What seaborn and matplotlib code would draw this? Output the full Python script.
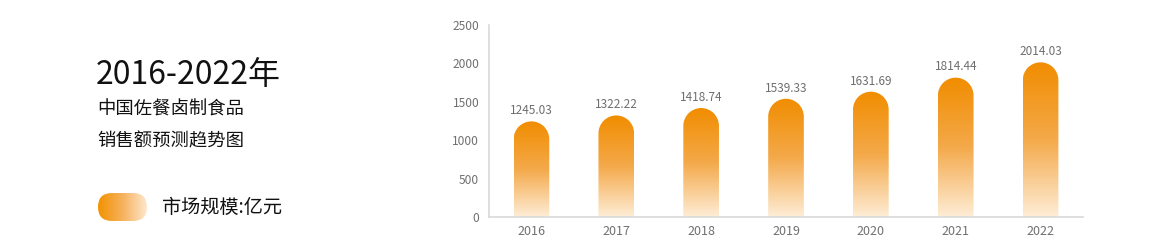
import numpy as np
import pandas as pd
import matplotlib
matplotlib.use('Agg')
import matplotlib.pyplot as plt
import seaborn as sns
from matplotlib.path import Path
from matplotlib.patches import PathPatch, FancyBboxPatch
from matplotlib.colors import LinearSegmentedColormap

# ---- data ----
years = ['2016', '2017', '2018', '2019', '2020', '2021', '2022']
values = [1245.03, 1322.22, 1418.74, 1539.33, 1631.69, 1814.44, 2014.03]
yticks = [0, 500, 1000, 1500, 2000, 2500]
title_main = '2016-2022年'
title_sub1 = '中国佐餐卤制食品'
title_sub2 = '销售额预测趋势图'
legend_label = '市场规模:亿元'

sns.set_theme(style='white')
plt.rcParams['font.family'] = ['Noto Sans CJK SC', 'DejaVu Sans']

W, H = 1170, 250
fig = plt.figure(figsize=(W / 100, H / 100), dpi=100)
fig.patch.set_facecolor('white')

ax_l, ax_r, ax_t, ax_b = 489, 1083, 25, 217
ax = fig.add_axes([ax_l / W, (H - ax_b) / H, (ax_r - ax_l) / W, (ax_b - ax_t) / H])
ax.set_facecolor('white')

df = pd.DataFrame({'year': years, 'value': values})
sns.barplot(data=df, x='year', y='value', ax=ax, width=0.42, color='#F18D00')
ax.set_xlim(-0.5, len(years) - 0.5)
ax.set_ylim(0, 2500)

bar_cmap = LinearSegmentedColormap.from_list('bar', ['#FEEDD6', '#F4A94A', '#F18D00'])
px_per_x = (ax_r - ax_l) / len(years)
px_per_y = (ax_b - ax_t) / 2500.0
grad = np.linspace(1, 0, 256).reshape(-1, 1)

for p in list(ax.patches):
    x0 = p.get_x()
    w = p.get_width()
    h = p.get_height()
    r_px = w * px_per_x / 2.0
    ry = r_px / px_per_y
    cx = x0 + w / 2.0
    arc = Path.arc(0, 180)
    av = arc.vertices.copy()
    av[:, 0] = cx + av[:, 0] * (w / 2.0)
    av[:, 1] = (h - ry) + av[:, 1] * ry
    ac = arc.codes.copy()
    ac[0] = Path.LINETO
    verts = [(x0 + w, 0), (x0 + w, h - ry)] + [tuple(v) for v in av] + [(x0, 0), (x0, 0)]
    codes = [Path.MOVETO, Path.LINETO] + list(ac) + [Path.LINETO, Path.CLOSEPOLY]
    clip = PathPatch(Path(verts, codes), facecolor='none', edgecolor='none', transform=ax.transData)
    ax.add_patch(clip)
    im = ax.imshow(grad, cmap=bar_cmap, vmin=0, vmax=1, aspect='auto',
                   extent=[x0, x0 + w, 0, h], origin='upper', zorder=2, interpolation='bilinear')
    im.set_clip_path(clip)
    p.set_visible(False)
    ax.annotate(f'{h:.2f}', (cx, h), xytext=(0, 3), textcoords='offset points',
                ha='center', va='bottom', fontsize=8.5, color='#6e6e6e')

ax.set_xlim(-0.5, len(years) - 0.5)
ax.set_ylim(0, 2500)
ax.set_yticks(yticks)
ax.set_yticklabels([str(t) for t in yticks])
ax.set_xlabel('')
ax.set_ylabel('')
ax.set_xticks(range(len(years)))
ax.set_xticklabels(years)
ax.set_xticks(np.arange(-0.5, len(years)), minor=True)
ax.tick_params(axis='y', length=0, pad=7, labelsize=8.6, labelcolor='#707070')
ax.tick_params(axis='x', which='major', length=0, pad=6, labelsize=9, labelcolor='#707070')
ax.tick_params(axis='x', which='minor', length=3, width=0.8, color='#cccccc', direction='out')
ax.grid(False)
for s in ['top', 'right']:
    ax.spines[s].set_visible(False)
for s in ['left', 'bottom']:
    ax.spines[s].set_color('#d9d9d9')
    ax.spines[s].set_linewidth(1.2)

# ---- left titles ----
fig.text(96 / W, 1 - 75 / H, title_main, fontsize=23, color='#111111', ha='left', va='center',
         fontweight='medium')
fig.text(97 / W, 1 - 110 / H, title_sub1, fontsize=13.2, color='#111111', ha='left', va='center',
         fontweight='medium')
fig.text(97 / W, 1 - 141 / H, title_sub2, fontsize=13.2, color='#111111', ha='left', va='center',
         fontweight='medium')

# ---- legend pill ----
lx0, lx1, ly0, ly1 = 98, 147, 193, 221
lax = fig.add_axes([lx0 / W, (H - ly1) / H, (lx1 - lx0) / W, (ly1 - ly0) / H])
lax.set_xlim(0, lx1 - lx0)
lax.set_ylim(0, ly1 - ly0)
lax.axis('off')
leg_cmap = LinearSegmentedColormap.from_list('leg', ['#F39200', '#F6B25E', '#FEEAD0'])
pill = FancyBboxPatch((0, 0), lx1 - lx0, ly1 - ly0,
                      boxstyle=f'round,pad=0,rounding_size={(ly1 - ly0) / 2}',
                      facecolor='none', edgecolor='none', transform=lax.transData)
lax.add_patch(pill)
lim = lax.imshow(np.linspace(0, 1, 256).reshape(1, -1), cmap=leg_cmap, aspect='auto',
                 extent=[0, lx1 - lx0, 0, ly1 - ly0], interpolation='bilinear')
lim.set_clip_path(pill)
lax.set_xlim(0, lx1 - lx0)
lax.set_ylim(0, ly1 - ly0)

fig.text(162 / W, 1 - 207 / H, legend_label, fontsize=13.8, color='#111111', ha='left', va='center',
         fontweight='medium')

fig.savefig('out.png', dpi=100, facecolor='white')
